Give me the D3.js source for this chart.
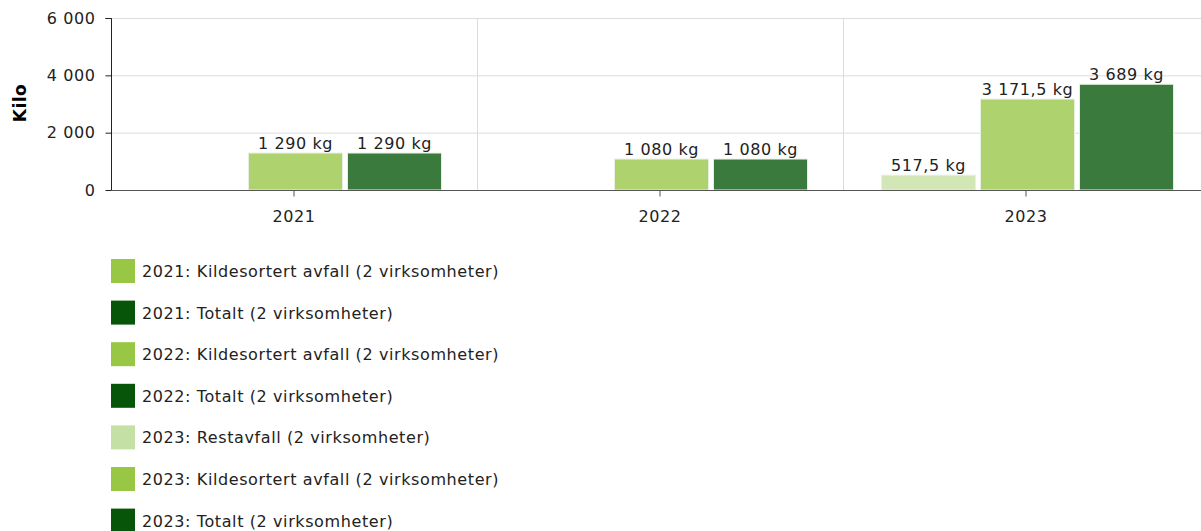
<!DOCTYPE html>
<html><head><meta charset="utf-8">
<script src="https://cdn.jsdelivr.net/npm/d3@7"></script>
<style>body{margin:0;background:#fff;overflow:hidden}svg{display:block;font-family:"DejaVu Sans",Verdana,sans-serif}</style>
</head><body><svg id="c" width="1201" height="531"></svg>
<script>
const years = ["2021","2022","2023"];
const seriesNames = ["Restavfall","Kildesortert avfall","Totalt"];
const restavfall = [null, null, 517.5];
const kildesortert = [1290, 1080, 3171.5];
const totalt = [1290, 1080, 3689];
const yTicks = [0, 2000, 4000, 6000];
const legendItems = [
  {label:"2021: Kildesortert avfall (2 virksomheter)", s:1},
  {label:"2021: Totalt (2 virksomheter)", s:2},
  {label:"2022: Kildesortert avfall (2 virksomheter)", s:1},
  {label:"2022: Totalt (2 virksomheter)", s:2},
  {label:"2023: Restavfall (2 virksomheter)", s:0},
  {label:"2023: Kildesortert avfall (2 virksomheter)", s:1},
  {label:"2023: Totalt (2 virksomheter)", s:2}
];
const barColors = ["#d3e6b5","#aed36e","#3a7a3c"];
const legendColors = ["#c5e0a4","#97c744","#075509"];

(function(){
const svg = d3.select("#c");
const pLeft = 111, pTop = 18, pBottom = 190, bandW = 366;
const FS = 16, LS = "0.6px";
const x = d3.scaleBand().domain(years).range([pLeft, pLeft + bandW*3]).paddingInner(0).paddingOuter(0);
const y = d3.scaleLinear().domain([0, 6000]).range([pBottom, pTop]);
const x1 = d3.scaleBand().domain(seriesNames).range([36, 333]).paddingInner(0.05).paddingOuter(0.025);
const loc = d3.formatLocale({decimal:",", thousands:" ", grouping:[3], currency:["",""]});
const nf = loc.format(",");

const g = svg.append("g");
g.selectAll(".hg").data(yTicks.filter(d=>d>0)).join("line")
  .attr("x1", pLeft).attr("x2", 1201).attr("y1", d=>y(d)+0.5).attr("y2", d=>y(d)+0.5)
  .attr("stroke", "#dcdcdc");
g.selectAll(".vg").data(years.slice(1)).join("line")
  .attr("x1", d=>x(d)+0.5).attr("x2", d=>x(d)+0.5).attr("y1", pTop).attr("y2", pBottom)
  .attr("stroke", "#dcdcdc");

const data = [];
years.forEach((yr,i)=>{
  [restavfall, kildesortert, totalt].forEach((arr,s)=>{
    if (arr[i] != null) data.push({yr, s, v: arr[i]});
  });
});
g.selectAll(".bar").data(data).join("rect")
  .attr("x", d=>x(d.yr)+x1(seriesNames[d.s]))
  .attr("width", x1.bandwidth())
  .attr("y", d=>y(d.v))
  .attr("height", d=>pBottom - y(d.v))
  .attr("fill", d=>barColors[d.s])
  .attr("stroke", "#e8f0e0").attr("stroke-width", 1);
g.selectAll(".lbl").data(data).join("text")
  .attr("x", d=>x(d.yr)+x1(seriesNames[d.s]) + x1.bandwidth()/2)
  .attr("y", d=>y(d.v)-4)
  .attr("text-anchor","middle").attr("font-size", FS).attr("letter-spacing", LS).attr("fill","#222")
  .text(d=>nf(d.v) + " kg");

const yAxis = d3.axisLeft(y).tickValues(yTicks).tickSize(6).tickPadding(10).tickFormat(d=>nf(d));
const ya = svg.append("g").attr("transform", `translate(${pLeft+0.5},0)`).call(yAxis);
ya.select(".domain").attr("stroke","#222").attr("d", `M-6,${pTop+0.5}H0V${pBottom+0.5}`);
ya.selectAll("text").attr("font-size", FS).attr("letter-spacing", LS).attr("fill","#222").attr("font-family","DejaVu Sans, Verdana, sans-serif");
ya.selectAll("line").attr("stroke","#222");

const xAxis = d3.axisBottom(x).tickSize(6).tickPadding(14);
const xa = svg.append("g").attr("transform", `translate(0,${pBottom+0.5})`).call(xAxis);
xa.select(".domain").attr("stroke","#555").attr("d", `M${pLeft},0H1201`);
xa.selectAll("line").attr("stroke","#555");
xa.selectAll("text").attr("font-size", FS).attr("letter-spacing", LS).attr("fill","#222").attr("font-family","DejaVu Sans, Verdana, sans-serif");

svg.append("text").attr("transform","translate(26,103) rotate(-90)")
  .attr("text-anchor","middle").attr("font-weight","bold").attr("font-size",17).attr("letter-spacing","0.5px").attr("fill","#000").text("Kilo");

const lg = svg.append("g").selectAll("g").data(legendItems).join("g")
  .attr("transform", (d,i)=>`translate(111,${259 + i*41.6})`);
lg.append("rect").attr("width",24).attr("height",24).attr("fill", d=>legendColors[d.s]);
lg.append("text").attr("x",31).attr("y",18).attr("font-size",FS).attr("letter-spacing", LS).attr("fill","#222").text(d=>d.label);
})();
</script></body></html>
